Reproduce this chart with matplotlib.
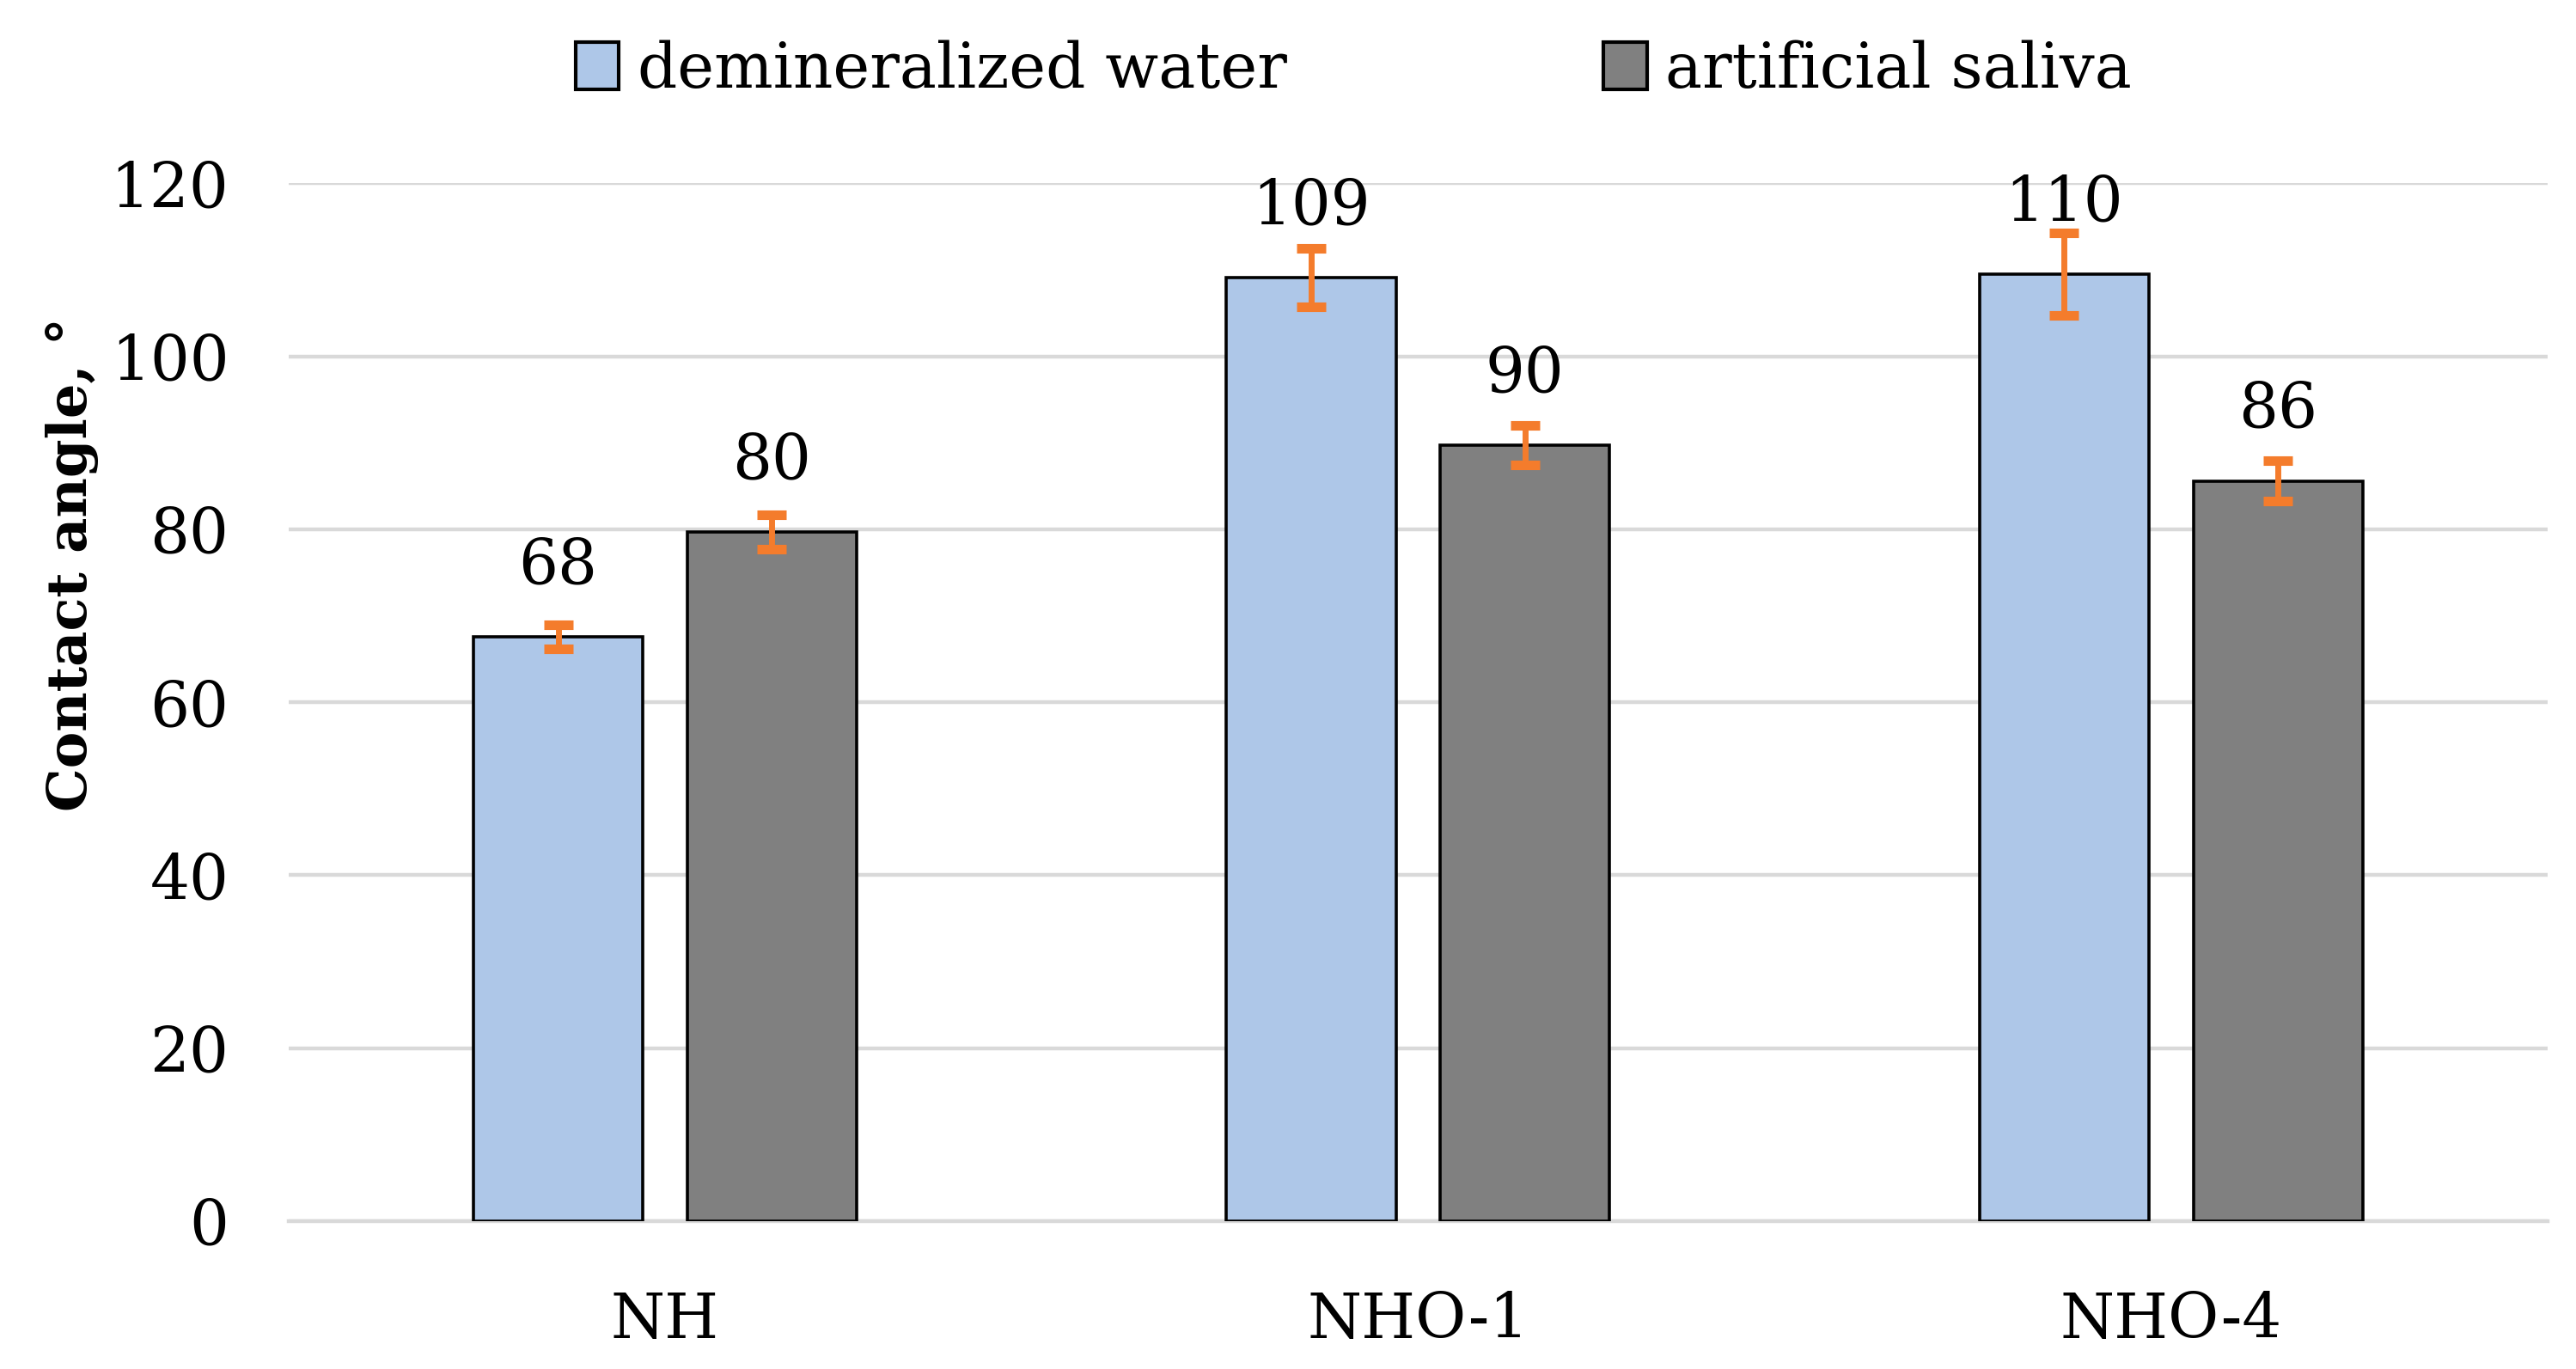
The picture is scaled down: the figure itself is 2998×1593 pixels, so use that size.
import numpy as np
import matplotlib
matplotlib.use("Agg")
import matplotlib.pyplot as plt
from matplotlib.patches import Patch

plt.rcParams['font.family'] = ['DejaVu Serif']

# data
samples = ["NH", "NHO-1", "NHO-4"]
series = ["demineralized water", "artificial saliva"]
water = [67.6, 109.1, 109.5]
saliva = [79.7, 89.7, 85.6]
water_err = [1.4, 3.4, 4.8]
saliva_err = [2.0, 2.3, 2.3]
water_lbl = ["68", "109", "110"]
saliva_lbl = ["80", "90", "86"]

colors = ["#AEC7E8", "#808080"]
errColor = "#F47C2C"
gridColor = "#D9D9D9"
fs = 52

fig = plt.figure(figsize=(29.98, 15.93), dpi=100)
ax = fig.add_axes([0.112, 0.108, 0.877, 0.758])

x = np.arange(len(samples))
w = 0.225
off = 0.142

vals = [water, saliva]
errs = [water_err, saliva_err]
lbls = [water_lbl, saliva_lbl]
for k in range(2):
  xs = x + (off if k else -off)
  ax.bar(xs, vals[k], width=w, color=colors[k], edgecolor="black",
      linewidth=2.6, zorder=3)
  ax.errorbar(xs, vals[k], yerr=errs[k], fmt="none", ecolor=errColor,
      elinewidth=5, capsize=12, capthick=8, zorder=4)
  for xi, v, t in zip(xs, vals[k], lbls[k]):
    ax.annotate(t, (xi, v), xytext=(0, 59), textcoords="offset points",
        ha="center", va="center", fontsize=fs, annotation_clip=False)

ax.set_ylim(0, 120)
ax.set_xlim(-0.5, 2.5)
ax.set_yticks(np.arange(0, 121, 20))
ax.set_xticks(x)
ax.set_xticklabels(samples)
ax.yaxis.grid(True, color=gridColor, linewidth=3.2, zorder=0)
ax.set_axisbelow(True)
for s in ["top", "right", "left"]:
  ax.spines[s].set_visible(False)
ax.spines["bottom"].set_color(gridColor)
ax.spines["bottom"].set_linewidth(3.2)
ax.tick_params(axis="both", length=0, labelsize=fs)
ax.tick_params(axis="x", pad=58)
ax.tick_params(axis="y", pad=50)

fig.text(0.028, 0.588, "Contact angle, °", rotation=90, ha="center",
    va="center", fontsize=46, fontweight="bold")

handles = [Patch(facecolor=colors[k], edgecolor="black", linewidth=3)
    for k in range(2)]
fig.legend(handles, series, loc="center", bbox_to_anchor=(0.5255, 0.949),
    ncol=2, frameon=False, fontsize=fs, handlelength=0.7, handleheight=0.8,
    handletextpad=0.3, columnspacing=5.1)

fig.savefig("out.png", dpi=100)
